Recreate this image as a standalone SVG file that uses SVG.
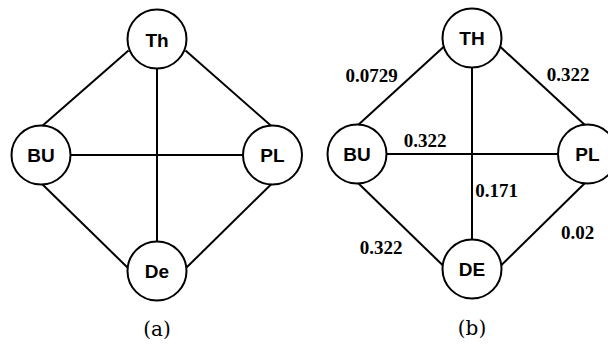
<svg xmlns="http://www.w3.org/2000/svg" width="608" height="345" viewBox="0 0 608 345">
<style>
.edge{stroke:#000;stroke-width:2;fill:none;stroke-linecap:butt}
.node circle{fill:#fff;stroke:#000;stroke-width:2}
.node text{font-family:"Liberation Sans",Arial,sans-serif;font-weight:bold;font-size:19px;text-anchor:middle;fill:#000}
.wt{font-family:"Liberation Serif","Times New Roman",serif;font-weight:bold;font-size:19px;text-anchor:middle;fill:#000}
.cap{font-family:"DejaVu Serif","Liberation Serif",serif;font-size:20px;text-anchor:middle;fill:#000}
</style>
<rect width="608" height="345" fill="#fff"/>
<g id="connectors">
  <line class="edge" x1="128.5" y1="50.5" x2="41" y2="127"/>
  <line class="edge" x1="185.5" y1="50.5" x2="272.5" y2="127"/>
  <line class="edge" x1="70" y1="155" x2="243" y2="155"/>
  <line class="edge" x1="157" y1="68" x2="157" y2="242"/>
  <line class="edge" x1="41" y1="183" x2="128" y2="268"/>
  <line class="edge" x1="272.5" y1="183" x2="186" y2="268"/>
  <line class="edge" x1="443.5" y1="47" x2="357" y2="126"/>
  <line class="edge" x1="500.5" y1="47" x2="586" y2="126"/>
  <line class="edge" x1="386" y1="154" x2="558" y2="154"/>
  <line class="edge" x1="472" y1="67" x2="472" y2="240"/>
  <line class="edge" x1="357" y1="182" x2="443.5" y2="266"/>
  <line class="edge" x1="586" y1="182" x2="500.5" y2="266"/>
</g>
<g id="a-Th" class="node"><circle cx="157" cy="39" r="29.5"/><text x="157" y="46.5">Th</text></g>
<g id="a-BU" class="node"><circle cx="41" cy="155" r="29.5"/><text x="41" y="162">BU</text></g>
<g id="a-PL" class="node"><circle cx="272.5" cy="155" r="29.5"/><text x="272.5" y="162">PL</text></g>
<g id="a-De" class="node"><circle cx="157" cy="271" r="29.5"/><text x="157" y="278">De</text></g>
<g id="b-TH" class="node"><circle cx="472" cy="38" r="29.5"/><text x="472" y="45">TH</text></g>
<g id="b-BU" class="node"><circle cx="357" cy="154" r="29.5"/><text x="357" y="161">BU</text></g>
<g id="b-PL" class="node"><circle cx="587.5" cy="154" r="29.5"/><text x="587.5" y="161">PL</text></g>
<g id="b-DE" class="node"><circle cx="472" cy="269" r="29.5"/><text x="472" y="276">DE</text></g>
<g id="weights">
  <text class="wt" x="371.5" y="82">0.0729</text>
  <text class="wt" x="568" y="80.5">0.322</text>
  <text class="wt" x="425" y="147">0.322</text>
  <text class="wt" x="496.5" y="197">0.171</text>
  <text class="wt" x="577.5" y="238.5">0.02</text>
  <text class="wt" x="381" y="253.5">0.322</text>
</g>
<text class="cap" x="157" y="335.5">(a)</text>
<text class="cap" x="472" y="334.5">(b)</text>
</svg>
